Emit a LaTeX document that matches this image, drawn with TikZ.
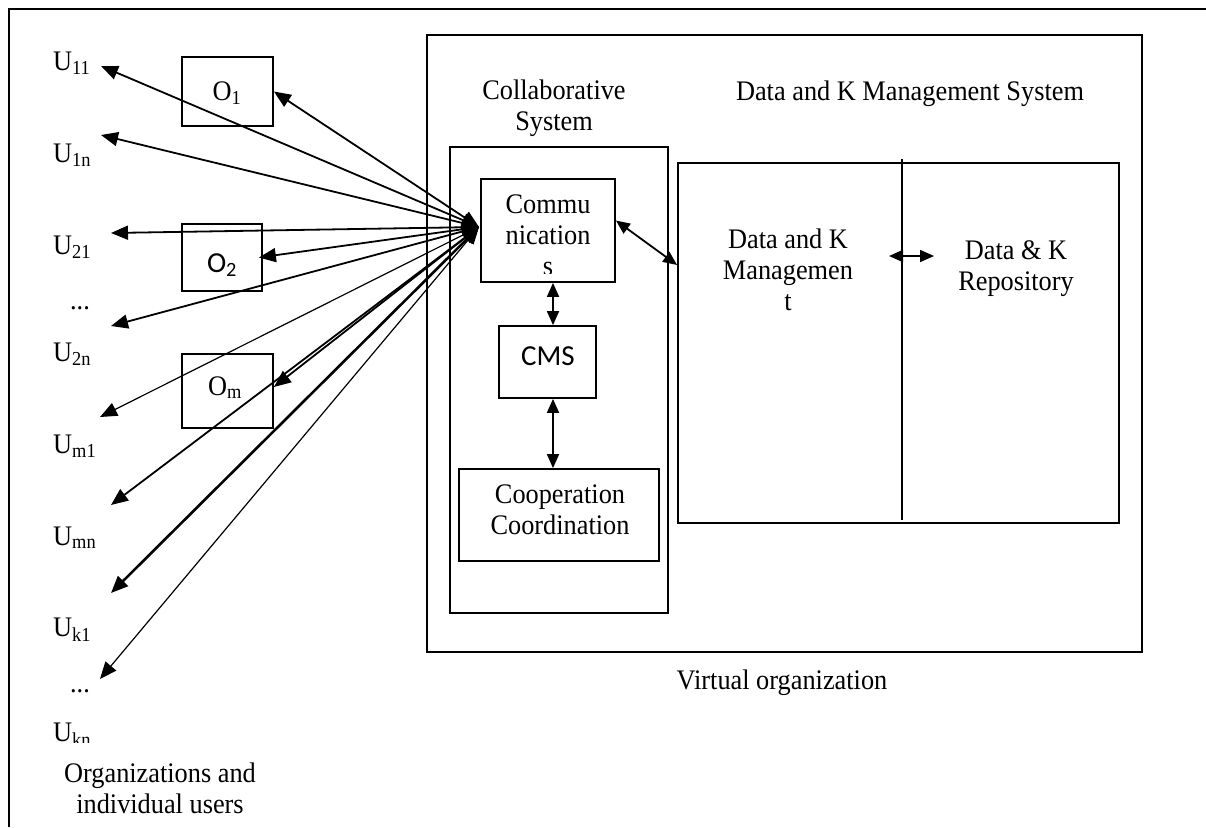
\documentclass[tikz,border=0pt]{standalone}
\usepackage{fontspec}
\setmainfont[FakeStretch=0.93]{Liberation Serif}
\newfontfamily\calfont{Carlito}
\usetikzlibrary{arrows.meta,fit}
\begin{document}
\begin{tikzpicture}[x=1pt,y=-1pt,
  txt/.style={font=\fontsize{28.3}{31}\selectfont, inner sep=0pt},
  cal/.style={font=\calfont\fontsize{29}{31}\selectfont, inner sep=0pt},
  box/.style={draw, line width=1.8pt, inner sep=0pt},
  harr/.style={{Triangle[length=17pt,width=14pt]}-{Triangle[length=17pt,width=14pt]}, line width=1.8pt},
  varr/.style={{Triangle[length=14pt,width=12pt]}-{Triangle[length=14pt,width=12pt]}, line width=1.8pt}]
\useasboundingbox (0,0) rectangle (1206,827);
% outer frame (top and left sides)
\draw[line width=1.8pt] (9,827) -- (9,9) -- (1206,9);

% boxes
\node[box, fit={(427,35) (1142,652)}] (vo) {};
\node[box, fit={(450,147) (668,613)}] (collab) {};
\node[box, fit={(481,179) (615,282)}] (comm) {};
\node[box, fit={(499,326) (596,398)}] (cms) {};
\node[box, fit={(459,469) (659,561)}] (coop) {};
\node[box, fit={(678,163) (1119,523)}] (dk) {};
\node[box, fit={(182,57) (273,126)}] (o1) {};
\node[box, fit={(182,224) (262,291)}] (o2) {};
\node[box, fit={(182,354) (273,428)}] (om) {};

% divider in DK box
\draw[line width=1.6pt] (902,159) -- (902,520);

% texts (anchor=base is the baseline of the last line)
\node[txt, anchor=base, align=center] (collabl) at (554,130) {Collaborative\\System};
\node[txt, anchor=base] (dksys) at (910,100) {Data and K Management System};
\begin{scope}
\clip (481,179) rectangle (615,273);
\node[txt, anchor=base, align=center] (commt) at (548,275) {Commu\\nication\\s};
\end{scope}
\node[cal, anchor=base] (cmst) at (548,365) {CMS};
\node[txt, anchor=base, align=center] (coopt) at (560,534) {Cooperation\\Coordination};
\node[txt, anchor=base, align=center] (dkm) at (788,310) {Data and K\\Managemen\\t};
\node[txt, anchor=base, align=center] (dkr) at (1016,290) {Data \& K\\Repository};
\node[txt, anchor=base] (vot) at (782,689) {Virtual organization};

\node[txt, anchor=base] (o1t) at (227,100) {O\textsubscript{1}};
\node[cal, anchor=base] (o2t) at (222,272) {O\textsubscript{2}};
\node[txt, anchor=base] (omt) at (225,395) {O\textsubscript{m}};

\node[txt, anchor=base west] (u11) at (53,70) {U\textsubscript{11}};
\node[txt, anchor=base west] (u1n) at (53,162) {U\textsubscript{1n}};
\node[txt, anchor=base west] (u21) at (53,254) {U\textsubscript{21}};
\node[txt, anchor=base] (dots1) at (80,309) {...};
\node[txt, anchor=base west] (u2n) at (53,361) {U\textsubscript{2n}};
\node[txt, anchor=base west] (um1) at (53,453) {U\textsubscript{m1}};
\node[txt, anchor=base west] (umn) at (53,545) {U\textsubscript{mn}};
\node[txt, anchor=base west] (uk1) at (53,636) {U\textsubscript{k1}};
\node[txt, anchor=base] (dots2) at (80,692) {...};
\begin{scope}
\clip (0,700) rectangle (300,742);
\node[txt, anchor=base west] (ukn) at (53,741) {U\textsubscript{kn}};
\end{scope}
\node[txt, anchor=base, align=center] (orgs) at (160,813) {Organizations and\\individual users};

% hub and far-end coordinates
\coordinate (hub) at (479,227);
\coordinate (t1) at (101,66);
\coordinate (t2) at (101,135);
\coordinate (t3) at (111,233);
\coordinate (t4) at (111,326);
\coordinate (t5) at (100,417);
\coordinate (t6) at (111,505);
\coordinate (t7) at (111,593);
\coordinate (t8) at (100,679);

\draw[harr] (hub) -- (t1);
\draw[harr] (hub) -- (o1.east);
\draw[harr] (hub) -- (t2);
\draw[harr] (hub) -- (t3);
\draw[harr] (hub) -- ([xshift=-4pt]o2.east);
\draw[harr] (hub) -- (t4);
\draw[harr, line width=1.2pt] (hub) -- (t5);
\draw[harr] (hub) -- ([yshift=4pt]om.east);
\draw[harr] (hub) -- (t6);
\draw[harr, line width=2.6pt] (hub) -- (t7);
\draw[harr, line width=1.2pt] (hub) -- (t8);

% internal connectors
\draw[varr] ([yshift=10pt]comm.east) -- ([yshift=78pt]dk.west);
\draw[varr] ([xshift=5pt]comm.south) -- ([xshift=5pt]comm.south |- cms.north);
\draw[varr] ([xshift=5.5pt]cms.south) -- ([xshift=5.5pt]cms.south |- coop.north);
\coordinate (dka) at (889,256);
\coordinate (dkb) at (934,256);
\draw[varr] (dka) -- (dkb);
\end{tikzpicture}
\end{document}
